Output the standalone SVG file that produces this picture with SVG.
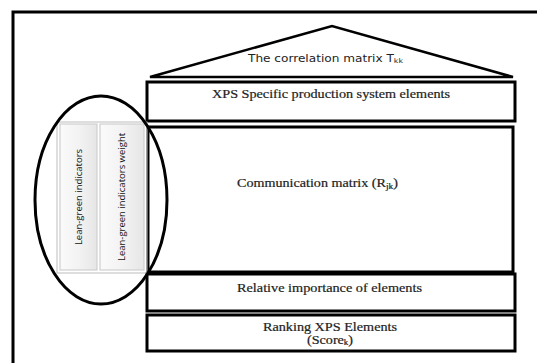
<svg xmlns="http://www.w3.org/2000/svg" width="537" height="363" viewBox="0 0 537 363">
<defs>
<linearGradient id="btn" x1="0" y1="0" x2="1" y2="0">
<stop offset="0" stop-color="#fafafa"/>
<stop offset="0.5" stop-color="#f3f3f3"/>
<stop offset="1" stop-color="#e6e6e6"/>
</linearGradient>
</defs>
<style>
.box{fill:#fff;stroke:#000;stroke-width:3}
.roof{fill:none;stroke:#000;stroke-width:2.5;stroke-linejoin:miter}
.serif{font-family:"Liberation Serif","Times New Roman",serif;fill:#222;font-size:12px;stroke:#222;stroke-width:0.2}
.sans{font-family:"DejaVu Sans",Verdana,sans-serif;fill:#222}
.btn{fill:url(#btn);stroke:#cfcfcf;stroke-width:1.2}
.btxt{font-family:"Open Sans","Liberation Sans",sans-serif;font-size:9.5px;fill:#111;text-anchor:middle}
</style>
<rect width="537" height="363" fill="#fff"/>
<path d="M13,380 V12 H540" fill="none" stroke="#000" stroke-width="3"/>

<g id="roof">
<polygon class="roof" points="150,77 332,26 513,77"/>
<text class="sans" x="248" y="62" font-size="10" textLength="155" lengthAdjust="spacingAndGlyphs">The correlation matrix T<tspan font-size="6.5" dy="1">kk</tspan></text>
</g>

<g id="xps">
<rect class="box" x="147" y="82" width="368" height="39"/>
<text class="serif" x="212" y="98" textLength="238" lengthAdjust="spacingAndGlyphs">XPS Specific production system elements</text>
</g>

<g id="communication">
<rect class="box" x="148" y="127" width="365" height="145"/>
<text class="serif" x="237" y="187" textLength="161" lengthAdjust="spacingAndGlyphs">Communication matrix (R<tspan font-size="8" dy="1.5">jk</tspan><tspan dy="-1.5">)</tspan></text>
</g>

<g id="relative">
<rect class="box" x="147" y="274" width="368" height="37"/>
<text class="serif" x="237" y="292" textLength="185" lengthAdjust="spacingAndGlyphs">Relative importance of elements</text>
</g>

<g id="ranking">
<rect class="box" x="147" y="315" width="368" height="36"/>
<text class="serif" x="263" y="331" font-size="11" textLength="134" lengthAdjust="spacingAndGlyphs">Ranking XPS Elements</text>
<text class="serif" x="307" y="344" font-size="11" textLength="46" lengthAdjust="spacingAndGlyphs">(Score<tspan font-size="7.5" dy="1">k</tspan><tspan dy="-1">)</tspan></text>
</g>

<g id="indicators">
<rect x="57" y="122" width="90" height="151" fill="none" stroke="#bdbdbd" stroke-width="1"/>
<rect class="btn" x="60" y="124" width="37" height="146"/>
<text class="btxt" transform="translate(82,197) rotate(-90)">Lean-green indicators</text>
</g>

<g id="indicators-weight">
<rect class="btn" x="100" y="124" width="44" height="146"/>
<text class="btxt" transform="translate(125,197) rotate(-90)">Lean-green indicators weight</text>
</g>

<g id="connectors">
<ellipse cx="101" cy="200" rx="66" ry="104" fill="none" stroke="#000" stroke-width="3"/>
</g>
</svg>
